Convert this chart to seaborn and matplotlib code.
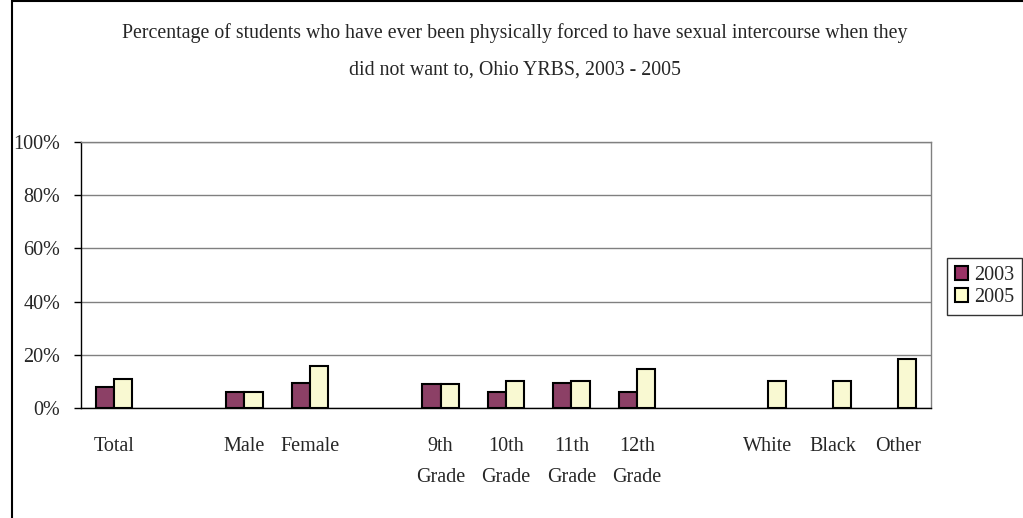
import numpy as np
import pandas as pd
import matplotlib.pyplot as plt
import matplotlib.patches as mpatches
import seaborn as sns

# Ohio YRBS, forced sexual intercourse, 2003 vs 2005
categories = ['Total', ' ', 'Male', 'Female', '  ', '9th\nGrade', '10th\nGrade',
              '11th\nGrade', '12th\nGrade', '   ', 'White', 'Black', 'Other']
pct_2003 = [8.1, None, 6.0, 9.6, None, 9.0, 6.0, 9.6, 6.0, None, None, None, None]
pct_2005 = [11.1, None, 6.0, 15.8, None, 9.0, 10.4, 10.4, 14.7, None, 10.4, 10.4, 18.6]
years = ['2003', '2005']
colors = ['#993366', '#FFFFCC']

rows = []
for cat, a, b in zip(categories, pct_2003, pct_2005):
    if a is not None:
        rows.append({'category': cat, 'year': '2003', 'pct': a})
    if b is not None:
        rows.append({'category': cat, 'year': '2005', 'pct': b})
df = pd.DataFrame(rows)

sns.set_style('white')
plt.rcParams['font.family'] = ['Liberation Serif', 'DejaVu Serif']

fig = plt.figure(figsize=(10.23, 5.18), dpi=100)
ax = fig.add_axes([81/1023, 1 - 408.3/518, 850/1023, 266.5/518])

sns.barplot(data=df, x='category', y='pct', hue='year', order=categories,
            hue_order=years, palette=colors, edgecolor='black', linewidth=1.5,
            width=0.556, errorbar=None, ax=ax)

ax.set_xlim(-0.5, len(categories) - 0.5)
ax.set_ylim(0, 100)
ax.set_yticks(np.arange(0, 101, 20))
ax.set_yticklabels([f'{v}%' for v in range(0, 101, 20)], fontsize=14.5)
ax.set_xticks(np.arange(-0.5, len(categories), 1))
ax.set_xticklabels([])
ax.set_xticks(range(len(categories)), minor=True)
ax.set_xticklabels(categories, minor=True, fontsize=14.5, linespacing=1.85)
ax.tick_params(axis='x', which='major', length=5, width=1, color='black', direction='out')
ax.tick_params(axis='x', which='minor', length=0, pad=21)
ax.tick_params(axis='y', length=5, width=1, color='black', direction='out', pad=10, left=True)
ax.set_xlabel('')
ax.set_ylabel('')

ax.yaxis.grid(True, color='#808080', linewidth=1)
ax.set_axisbelow(True)
for side in ['top', 'right']:
    ax.spines[side].set_color('#808080')
    ax.spines[side].set_linewidth(1)
for side in ['left', 'bottom']:
    ax.spines[side].set_color('black')
    ax.spines[side].set_linewidth(1)

handles = [mpatches.Patch(facecolor=c, edgecolor='black', linewidth=1.5) for c in colors]
ax.legend(handles, years, loc='upper left', bbox_to_anchor=(947/1023, 1 - 258/518),
          bbox_transform=fig.transFigure, borderaxespad=0, frameon=True, fancybox=False,
          edgecolor='black', fontsize=14.5, handlelength=0.65, handleheight=0.65,
          handletextpad=0.3, labelspacing=0.15, borderpad=0.4)

fig.text(515/1023, 1 - 33/518,
         'Percentage of students who have ever been physically forced to have sexual intercourse when they',
         ha='center', va='center', fontsize=14.3)
fig.text(515/1023, 1 - 70/518, 'did not want to, Ohio YRBS, 2003 - 2005',
         ha='center', va='center', fontsize=14.3)

# outer chart border
fig.add_artist(mpatches.Rectangle((12/1023, -0.1), 1.2, 1.1 - 1.5/518,
                                  transform=fig.transFigure, fill=False,
                                  edgecolor='black', linewidth=1.5))

fig.savefig('out.png', dpi=100)
